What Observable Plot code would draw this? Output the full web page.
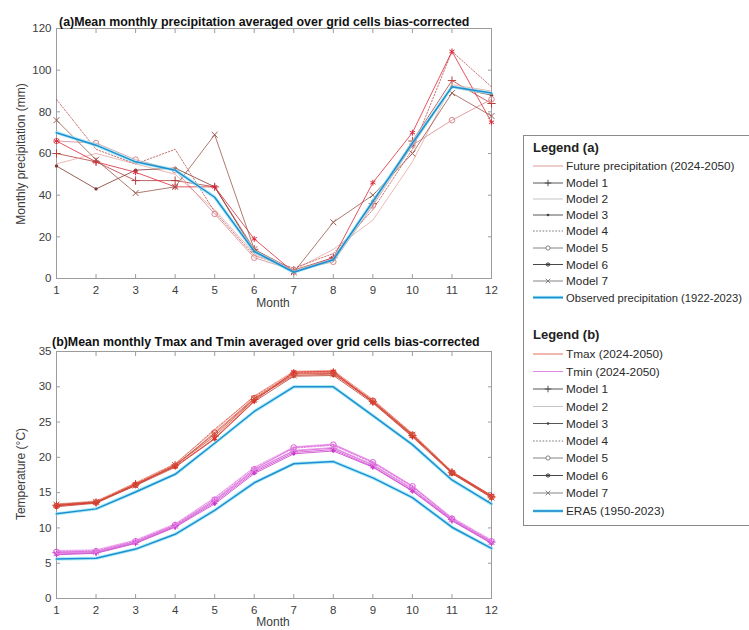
<!DOCTYPE html>
<html><head><meta charset="utf-8">
<script src="https://cdn.jsdelivr.net/npm/d3@7"></script>
<script src="https://cdn.jsdelivr.net/npm/@observablehq/plot@0.6"></script>
<style>
body{margin:0;background:#fff;font-family:"Liberation Sans",Arial,sans-serif;}
#wrap{position:relative;width:749px;height:630px;overflow:hidden;background:#fff;}
#wrap > svg, #wrap > div{position:absolute;left:0;}
</style></head><body><div id="wrap"></div>
<script>
// ---------- data ----------
const months = [1,2,3,4,5,6,7,8,9,10,11,12];
const precipTicks = [0,20,40,60,80,100,120];
const tempTicks = [0,5,10,15,20,25,30,35];
const modelNames = ["Model 1","Model 2","Model 3","Model 4","Model 5","Model 6","Model 7"];

const precipObserved = [70,64,56,52,39,13,3,9,37,65,92,89];
const precipModel1 = [60,56,47,47,44,14,4,10,36,66,95,84];
const precipModel2 = [55,60,55,50,33,12,4,14,28,56,93,90];
const precipModel3 = [54,43,52,53,44,13,3,9,37,64,92,88];
const precipModel4 = [86,62,55,62,32,11,5,12,33,62,109,92];
const precipModel5 = [66,65,57,52,31,10,4,8,35,64,76,86];
const precipModel6 = [66,56,51,44,44,19,3,10,46,70,109,75];
const precipModel7 = [76,57,41,44,69,14,3,27,40,60,89,78];

const tmaxERA5 = [12.0,12.7,15.1,17.6,22.0,26.5,30.0,30.0,25.9,21.8,16.8,13.4];
const tminERA5 = [5.6,5.7,7.0,9.1,12.5,16.4,19.1,19.4,17.1,14.3,10.1,7.1];
const tmaxModel1 = [13.2,13.6,16.2,18.9,23.0,28.2,31.8,31.9,27.9,23.1,17.9,14.4];
const tmaxModel2 = [13.4,13.8,16.4,19.1,23.8,28.7,32.2,32.3,28.2,23.4,18.0,14.6];
const tmaxModel3 = [13.0,13.5,16.0,18.6,22.6,27.9,31.5,31.6,27.7,22.9,17.7,14.3];
const tmaxModel4 = [13.3,13.7,16.3,19.0,24.0,28.6,32.0,32.1,28.1,23.3,18.0,14.5];
const tmaxModel5 = [13.1,13.6,16.1,18.8,23.5,28.4,31.9,32.0,28.0,23.2,17.8,14.4];
const tmaxModel6 = [13.2,13.6,16.2,18.7,22.7,28.0,32.1,32.2,27.8,23.0,17.9,14.6];
const tmaxModel7 = [13.3,13.7,16.0,18.9,23.3,28.3,31.6,31.8,27.9,23.2,17.8,14.3];
const tminModel1 = [6.5,6.6,8.0,10.3,13.8,18.1,20.9,21.3,18.9,15.5,11.2,8.0];
const tminModel2 = [6.8,6.9,8.3,10.6,14.3,18.6,21.5,21.9,19.4,16.0,11.5,8.3];
const tminModel3 = [6.2,6.4,7.8,10.1,13.4,17.7,20.5,20.9,18.6,15.2,11.0,7.8];
const tminModel4 = [6.7,6.8,8.2,10.5,14.2,18.5,21.3,21.7,19.2,15.8,11.4,8.2];
const tminModel5 = [6.6,6.7,8.1,10.4,14.0,18.3,21.4,21.8,19.3,15.9,11.3,8.1];
const tminModel6 = [6.3,6.5,7.9,10.2,13.6,17.9,20.7,21.1,18.7,15.3,11.1,7.9];
const tminModel7 = [6.4,6.6,8.0,10.3,13.9,18.2,21.0,21.4,19.0,15.6,11.2,8.0];

// ---------- styles (separate from data) ----------
const modelSymbols = ["plus", null, "dot", null, "circle", "asterisk", "times"];
const modelDash = [undefined, undefined, undefined, "1.6,1.6", undefined, undefined, undefined];
const precipColors = ["#b5433f","#e6aaa4","#7f3a33","#c05858","#d98a8e","#dc2a3c","#9b5a4f"];
const tmaxColors = ["#d9432f","#e8806e","#c23a2c","#e05a45","#d84a3a","#e0302a","#c9503c"];
const tminColors = ["#d64fd6","#ec9cec","#c640c6","#e070e0","#d860d8","#cf3fcf","#e088e0"];
const blue = "#1e8ed0", blueHalo = "#8ee6f4";
const axisColor = "#9c9c9c", textColor = "#3c3c3c";
const FONT = "Liberation Sans, Arial, sans-serif";

const rows = (vals, name) => months.map((m, i) => ({month: m, value: vals[i], series: name}));

function modelMarks(vals, k, color) {
  const data = rows(vals, modelNames[k]);
  const out = [Plot.line(data, {x: "month", y: "value", stroke: color, strokeWidth: 0.9, strokeOpacity: 0.9, strokeDasharray: modelDash[k]})];
  const s = modelSymbols[k];
  if (s === "dot") out.push(Plot.dot(data, {x: "month", y: "value", r: 1.7, fill: color}));
  else if (s) out.push(Plot.dot(data, {x: "month", y: "value", symbol: s, r: 2.8, stroke: color, strokeWidth: 1, fill: "none"}));
  return out;
}
function obsMarks(vals, name) {
  const data = rows(vals, name);
  return [
    Plot.line(data, {x: "month", y: "value", stroke: blueHalo, strokeWidth: 3.4, strokeOpacity: 0.7}),
    Plot.line(data, {x: "month", y: "value", stroke: blue, strokeWidth: 1.5})
  ];
}
function frameAxes(yTicks) {
  return [
    Plot.frame({stroke: axisColor, strokeWidth: 1}),
    Plot.axisX(months, {anchor: "bottom", tickSize: 0, tickPadding: 7, label: null, fill: textColor, fontSize: 11.5}),
    Plot.axisY(yTicks, {anchor: "left", tickSize: 0, tickPadding: 5, label: null, fill: textColor, fontSize: 11.5}),
    Plot.axisX(months, {anchor: "bottom", tickSize: 4, dy: -4, tickFormat: () => "", label: null, stroke: axisColor}),
    Plot.axisX(months, {anchor: "top", tickSize: 4, dy: 4, tickFormat: () => "", label: null, stroke: axisColor}),
    Plot.axisY(yTicks, {anchor: "left", tickSize: 4, dx: 4, tickFormat: () => "", label: null, stroke: axisColor}),
    Plot.axisY(yTicks, {anchor: "right", tickSize: 4, dx: -4, tickFormat: () => "", label: null, stroke: axisColor})
  ];
}
const baseOpts = {
  width: 500, marginLeft: 56, marginRight: 9, marginTop: 28, marginBottom: 32,
  style: {fontFamily: FONT, fontSize: "11px", background: "transparent", overflow: "visible"}
};

// ---------- panel (a) ----------
const precipModels = [precipModel1, precipModel2, precipModel3, precipModel4, precipModel5, precipModel6, precipModel7];
const plotA = Plot.plot({
  ...baseOpts, height: 310,
  x: {domain: [1, 12]}, y: {domain: [0, 120]},
  marks: [
    ...frameAxes(precipTicks),
    ...precipModels.flatMap((v, k) => modelMarks(v, k, precipColors[k])),
    ...obsMarks(precipObserved, "Observed precipitation (1922-2023)")
  ]
});
plotA.style.top = "0px";

// ---------- panel (b) ----------
const tmaxModels = [tmaxModel1, tmaxModel2, tmaxModel3, tmaxModel4, tmaxModel5, tmaxModel6, tmaxModel7];
const tminModels = [tminModel1, tminModel2, tminModel3, tminModel4, tminModel5, tminModel6, tminModel7];
const plotB = Plot.plot({
  ...baseOpts, height: 307,
  x: {domain: [1, 12]}, y: {domain: [0, 35]},
  marks: [
    ...frameAxes(tempTicks),
    ...obsMarks(tmaxERA5, "ERA5 Tmax"),
    ...obsMarks(tminERA5, "ERA5 Tmin"),
    ...tmaxModels.flatMap((v, k) => modelMarks(v, k, tmaxColors[k])),
    ...tminModels.flatMap((v, k) => modelMarks(v, k, tminColors[k]))
  ]
});
plotB.style.top = "323px";

const wrap = document.getElementById("wrap");
wrap.appendChild(plotA);
wrap.appendChild(plotB);

// ---------- overlay: titles, axis labels, legend ----------
const ov = d3.select(wrap).append("svg").attr("width", 749).attr("height", 630)
  .style("top", "0px").style("font-family", FONT);

ov.append("text").attr("x", 59).attr("y", 26).attr("font-size", 12.4).attr("font-weight", "bold").attr("fill", "#111")
  .text("(a)Mean monthly precipitation averaged over grid cells bias-corrected");
ov.append("text").attr("x", 52).attr("y", 346).attr("font-size", 12.4).attr("font-weight", "bold").attr("fill", "#111")
  .text("(b)Mean monthly Tmax and Tmin averaged over grid cells bias-corrected");
ov.append("text").attr("x", 273).attr("y", 307).attr("text-anchor", "middle").attr("font-size", 12).attr("fill", textColor).text("Month");
ov.append("text").attr("x", 273).attr("y", 626).attr("text-anchor", "middle").attr("font-size", 12).attr("fill", textColor).text("Month");
ov.append("text").attr("transform", "translate(25,154) rotate(-90)").attr("text-anchor", "middle").attr("font-size", 12).attr("fill", textColor).text("Monthly precipitation (mm)");
ov.append("text").attr("transform", "translate(25,474) rotate(-90)").attr("text-anchor", "middle").attr("font-size", 12).attr("fill", textColor).text("Temperature (°C)");

// legend box
const lg = ov.append("g");
lg.append("rect").attr("x", 523.5).attr("y", 135.5).attr("width", 260).attr("height", 390).attr("fill", "#fff").attr("stroke", "#8a8a8a");
const lx1 = 533, lx2 = 563, tx = 566;
function legTitle(y, t) {
  lg.append("text").attr("x", 533).attr("y", y + 5).attr("font-size", 13).attr("font-weight", "bold").attr("fill", "#222").text(t);
}
function legItem(y, t, o) {
  if (o.halo) lg.append("line").attr("x1", lx1).attr("x2", lx2).attr("y1", y).attr("y2", y).attr("stroke", blueHalo).attr("stroke-width", 3.4).attr("stroke-opacity", 0.7);
  lg.append("line").attr("x1", lx1).attr("x2", lx2).attr("y1", y).attr("y2", y)
    .attr("stroke", o.color).attr("stroke-width", o.width || 0.9).attr("stroke-dasharray", o.dash || null);
  const cx = (lx1 + lx2) / 2;
  if (o.symbol === "dot") lg.append("circle").attr("cx", cx).attr("cy", y).attr("r", 1.3).attr("fill", o.color);
  else if (o.symbol) {
    const sym = {plus: d3.symbolPlus, circle: d3.symbolCircle, asterisk: d3.symbolAsterisk, times: d3.symbolTimes}[o.symbol];
    lg.append("path").attr("transform", `translate(${cx},${y})`).attr("d", d3.symbol(sym, o.symbol === "circle" ? 14 : 16)())
      .attr("fill", o.symbol === "circle" ? "#fff" : "none").attr("stroke", o.color).attr("stroke-width", 0.9);
  }
  lg.append("text").attr("x", tx).attr("y", y + 4).attr("font-size", o.fs || 11.8).attr("fill", "#2a2a2a").text(t);
}
const legModelColors = ["#444","#bdbdbd","#444","#666","#777","#333","#777"];
legTitle(147, "Legend (a)");
legItem(166, "Future precipitation (2024-2050)", {color: "#d98c8c"});
const rowA = [183, 199, 215, 231, 248, 264.5, 281];
modelNames.forEach((n, k) => legItem(rowA[k], n, {color: legModelColors[k], symbol: modelSymbols[k], dash: modelDash[k]}));
legItem(297.5, "Observed precipitation (1922-2023)", {color: blue, width: 1.7, halo: true, fs: 11.2});

legTitle(334, "Legend (b)");
legItem(354, "Tmax (2024-2050)", {color: "#e0604a"});
legItem(371.5, "Tmin (2024-2050)", {color: "#e07ce0"});
const rowB = [389, 406.5, 423.5, 441, 458, 475.5, 493];
modelNames.forEach((n, k) => legItem(rowB[k], n, {color: legModelColors[k], symbol: modelSymbols[k], dash: modelDash[k]}));
legItem(511, "ERA5 (1950-2023)", {color: blue, width: 1.7, halo: true});
</script>
</body></html>
